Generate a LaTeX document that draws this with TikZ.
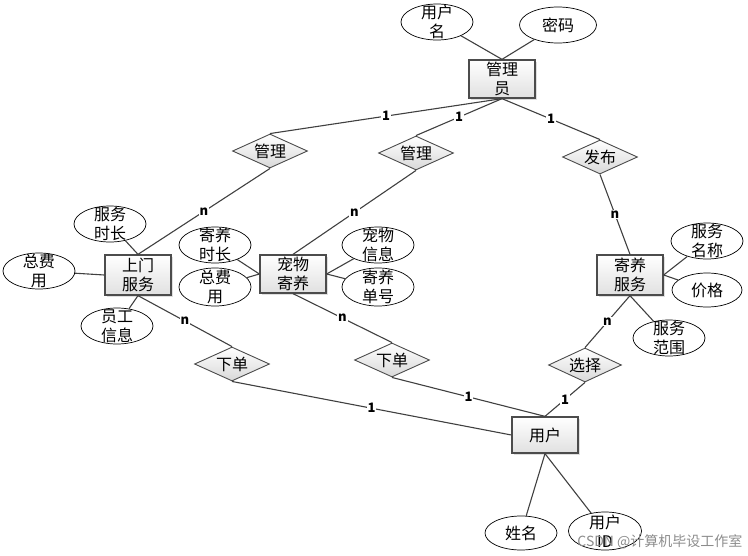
\documentclass[tikz,border=0pt]{standalone}
\usepackage{fontspec}
\newfontfamily\cjk{Noto Sans CJK SC}
\usetikzlibrary{shapes.geometric,shadows}
\tikzset{
  ent/.style={rectangle, draw=black!70, line width=1.3pt, top color=white, bottom color=black!12,
    drop shadow={shadow xshift=2pt, shadow yshift=-2pt, fill=black!25},
    minimum width=66pt, minimum height=38pt, inner sep=0pt, align=center,
    font=\cjk\fontsize{16}{19}\selectfont},
  rel/.style={diamond, draw=black!70, line width=0.9pt, top color=white, bottom color=black!15,
    minimum width=75pt, minimum height=34pt, aspect=2.2, inner sep=0pt,
    font=\cjk\fontsize{16}{19}\selectfont},
  attr/.style={ellipse, draw=black, line width=0.7pt, fill=white, minimum width=72pt, minimum height=36pt,
    inner xsep=0pt, inner ysep=-10pt, align=center, font=\cjk\fontsize{16}{19}\selectfont},
  conn/.style={draw=black!75, line width=1.1pt},
  lbl/.style={fill=white, inner sep=0.8pt, font=\cjk\bfseries\fontsize{13}{13}\selectfont},
}
\begin{document}
\begin{tikzpicture}[x=1pt,y=-1pt]
\useasboundingbox (0,0) rectangle (748,555);
\path
  (502,79) coordinate (pmgr)
  (138,275) coordinate (psm)
  (293,274) coordinate (pcw)
  (630,275) coordinate (pjy)
  (545,435) coordinate (pyh)
  (270,151) coordinate (pr1)
  (416,153) coordinate (pr2)
  (600,157) coordinate (pr3)
  (232,364) coordinate (pr4)
  (392,360) coordinate (pr5)
  (585,365) coordinate (pr6);

% attribute ellipses
\node[attr] (a1) at (437,22) {用户\\名};
\node[attr, minimum width=77pt] (a2) at (558,25) {密码};
\node[attr] (a3) at (110,224) {服务\\时长};
\node[attr] (a4) at (39,271) {总费\\用};
\node[attr] (a5) at (117,326) {员工\\信息};
\node[attr] (a6) at (215,245) {寄养\\时长};
\node[attr, minimum height=38pt] (a7) at (215,287) {总费\\用};
\node[attr] (a8) at (378,245) {宠物\\信息};
\node[attr, minimum height=38pt] (a9) at (378,287) {寄养\\单号};
\node[attr] (a10) at (707,241) {服务\\名称};
\node[attr, minimum width=70pt, minimum height=34pt] (a11) at (707,290) {价格};
\node[attr] (a12) at (669,338) {服务\\范围};
\node[attr, minimum height=34pt] (a13) at (521,533) {姓名};
\node[attr, minimum width=73pt, minimum height=38pt] (a14) at (605,531) {用户\\ID};

% entities
\node[ent] (mgr) at (pmgr) {管理\\员};
\node[ent, minimum height=40pt] (sm) at (psm) {上门\\服务};
\node[ent] (cw) at (pcw) {宠物\\寄养};
\node[ent, minimum height=40pt] (jy) at (pjy) {寄养\\服务};
\node[ent, minimum height=36pt] (yh) at (pyh) {用户};

% relationships
\node[rel] (r1) at (pr1) {管理};
\node[rel] (r2) at (pr2) {管理};
\node[rel] (r3) at (pr3) {发布};
\node[rel] (r4) at (pr4) {下单};
\node[rel] (r5) at (pr5) {下单};
\node[rel, minimum width=73pt] (r6) at (pr6) {选择};

% attribute connectors
\draw[conn] (a1) -- (mgr.north);
\draw[conn] (a2) -- (mgr.north);
\draw[conn] (a3) -- (sm.north);
\draw[conn] (a4) -- (sm.west);
\draw[conn] (a5) -- (sm.south);
\draw[conn] (a6) -- (cw.west);
\draw[conn] (a7) -- (cw.west);
\draw[conn] (a8) -- (cw.east);
\draw[conn] (a9) -- (cw.east);
\draw[conn] (a10) -- (jy.east);
\draw[conn] (a11) -- (jy.east);
\draw[conn] (a12) -- (jy.south);
\draw[conn] (a13) -- (yh.south);
\draw[conn] (a14) -- (yh.south);

% relationship connectors
\draw[conn] (mgr.south) -- (r1.north) node[midway,lbl] (l1) {1};
\draw[conn] (mgr.south) -- (r2.north) node[midway,lbl] (l2) {1};
\draw[conn] (mgr.south) -- (r3.north) node[midway,lbl] (l3) {1};
\draw[conn] (r1.south) -- (sm.north) node[midway,lbl] (l4) {n};
\draw[conn] (r2.south) -- (cw.north) node[midway,lbl] (l5) {n};
\draw[conn] (r3.south) -- (jy.north) node[midway,lbl] (l6) {n};
\draw[conn] (sm.south) -- (r4.north) node[midway,lbl] (l7) {n};
\draw[conn] (cw.south) -- (r5.north) node[midway,lbl] (l8) {n};
\draw[conn] (jy.south) -- (r6.north) node[midway,lbl] (l9) {n};
\draw[conn] (r4.south) -- (yh.west) node[midway,lbl] (l10) {1};
\draw[conn] (r5.south) -- (yh.north) node[midway,lbl] (l11) {1};
\draw[conn] (r6.south) -- (yh.north) node[midway,lbl] (l12) {1};

% watermark
\node[anchor=east, text=black!45, font=\cjk\fontsize{14}{14}\selectfont] (wm) at (746,542) {CSDN @计算机毕设工作室};
\end{tikzpicture}
\end{document}
